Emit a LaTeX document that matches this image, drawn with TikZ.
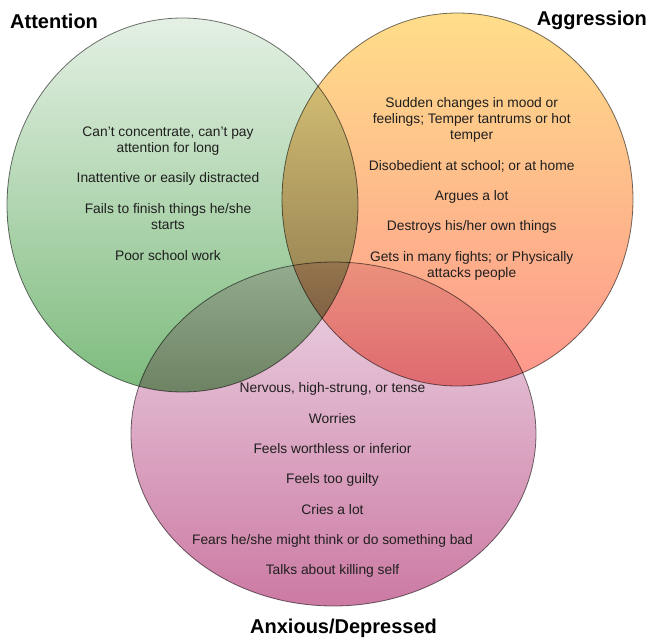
\documentclass[tikz,border=0pt]{standalone}
\usepackage{fontspec}
\setmainfont{Liberation Sans}
\definecolor{gA}{RGB}{228,240,228}
\definecolor{gB}{RGB}{125,187,125}
\definecolor{oA}{RGB}{255,222,138}
\definecolor{oB}{RGB}{253,150,140}
\definecolor{pA}{RGB}{236,214,228}
\definecolor{pB}{RGB}{204,122,163}
\begin{document}
\begin{tikzpicture}[x=1pt,y=-1pt,
  txt/.style={font=\fontsize{13.8}{16}\selectfont, anchor=base, inner sep=0pt, text=black!88},
  hdr/.style={font=\fontsize{20}{24}\selectfont\bfseries, inner sep=0pt, text=black},
  venn/.style={draw=black!55, line width=0.8pt, blend mode=multiply}]
\fill[white] (0,0) rectangle (649,638);
\useasboundingbox (0,0) rectangle (649,638);
% circles
\shade[venn, top color=gA, bottom color=gB] (182.5,205) ellipse [x radius=175.5, y radius=187];
\shade[venn, top color=oA, bottom color=oB] (457.5,199.5) ellipse [x radius=175.5, y radius=186.5];
\shade[venn, top color=pA, bottom color=pB] (333.5,434) ellipse [x radius=202.5, y radius=172];
% headers
\node[hdr, anchor=base west] (hAtt) at (10,28) {Attention};
\node[hdr, anchor=base east] (hAgg) at (647,25) {Aggression};
\node[hdr, anchor=base west] (hAnx) at (250,633) {Anxious/Depressed};
% attention
\node[txt] (t1a) at (168,136) {Can’t concentrate, can’t pay};
\node[txt] (t1b) at (168,152) {attention for long};
\node[txt] (t2) at (168,182) {Inattentive or easily distracted};
\node[txt] (t3a) at (168,213) {Fails to finish things he/she};
\node[txt] (t3b) at (168,229) {starts};
\node[txt] (t4) at (168,260) {Poor school work};
% aggression
\node[txt] (g1a) at (471.7,107) {Sudden changes in mood or};
\node[txt] (g1b) at (471.7,123) {feelings; Temper tantrums or hot};
\node[txt] (g1c) at (471.7,139) {temper};
\node[txt] (g2) at (471.7,170) {Disobedient at school; or at home};
\node[txt] (g3) at (471.7,200) {Argues a lot};
\node[txt] (g4) at (471.7,230.5) {Destroys his/her own things};
\node[txt] (g5a) at (471.7,261) {Gets in many fights; or Physically};
\node[txt] (g5b) at (471.7,277) {attacks people};
% anxious
\node[txt] (p1) at (332.5,392) {Nervous, high-strung, or tense};
\node[txt] (p2) at (332.5,423) {Worries};
\node[txt] (p3) at (332.5,453) {Feels worthless or inferior};
\node[txt] (p4) at (332.5,483.5) {Feels too guilty};
\node[txt] (p5) at (332.5,514) {Cries a lot};
\node[txt] (p6) at (332.5,544) {Fears he/she might think or do something bad};
\node[txt] (p7) at (332.5,574.5) {Talks about killing self};
\end{tikzpicture}
\end{document}
